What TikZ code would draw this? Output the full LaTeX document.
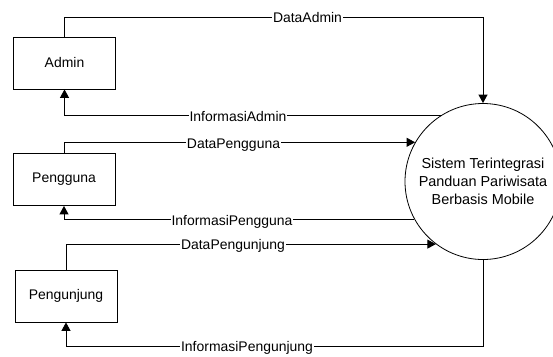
\documentclass[tikz,border=0pt]{standalone}
\usepackage{fontspec}
\setmainfont{Liberation Sans}
\usetikzlibrary{arrows.meta}
\begin{document}
\begin{tikzpicture}[x=1bp,y=-1bp,
  font=\fontsize{14}{18}\selectfont,
  entity/.style={draw,line width=0.8bp,minimum width=102bp,minimum height=52bp,inner sep=0pt},
  process/.style={draw,line width=0.8bp,circle,minimum size=156bp,inner sep=0pt,align=center,
    font=\fontsize{14.5}{18}\selectfont},
  flow/.style={line width=0.9bp,-{Triangle[length=8.5bp,width=9bp]}},
  flowlabel/.style={fill=white,inner sep=1bp,anchor=base}]
\useasboundingbox (0,0) rectangle (553,356);

% external entities and the system process
\node[entity] (admin) at (64.5,63) {Admin};
\node[entity] (pengguna) at (64,179.5) {Pengguna};
\node[entity] (pengunjung) at (66,296) {Pengunjung};
\node[process] (sys) at (483,181.5) {Sistem Terintegrasi\\Panduan Pariwisata\\Berbasis Mobile};

% data flows
\draw[flow] (admin.north) |- (sys.north |- 0,17) -- (sys.north);
\draw[flow] (sys.122.9) -| (admin.south);
\draw[flow] (pengguna.north) |- (sys.150.4);
\draw[flow] (sys.209.6) -| (pengguna.south);
\draw[flow] (pengunjung.north) |- (sys.233.2);
\draw[flow] (sys.south) -- (sys.south |- 0,346) -| (pengunjung.south);

% flow labels
\node[flowlabel] (lDataAdmin) at (307.5,22.5) {DataAdmin};
\node[flowlabel] (lInfoAdmin) at (238,121.5) {InformasiAdmin};
\node[flowlabel] (lDataPengguna) at (233.5,148.5) {DataPengguna};
\node[flowlabel] (lInfoPengguna) at (232,225.5) {InformasiPengguna};
\node[flowlabel] (lDataPengunjung) at (233,249.5) {DataPengunjung};
\node[flowlabel] (lInfoPengunjung) at (247,351.5) {InformasiPengunjung};
\end{tikzpicture}
\end{document}
